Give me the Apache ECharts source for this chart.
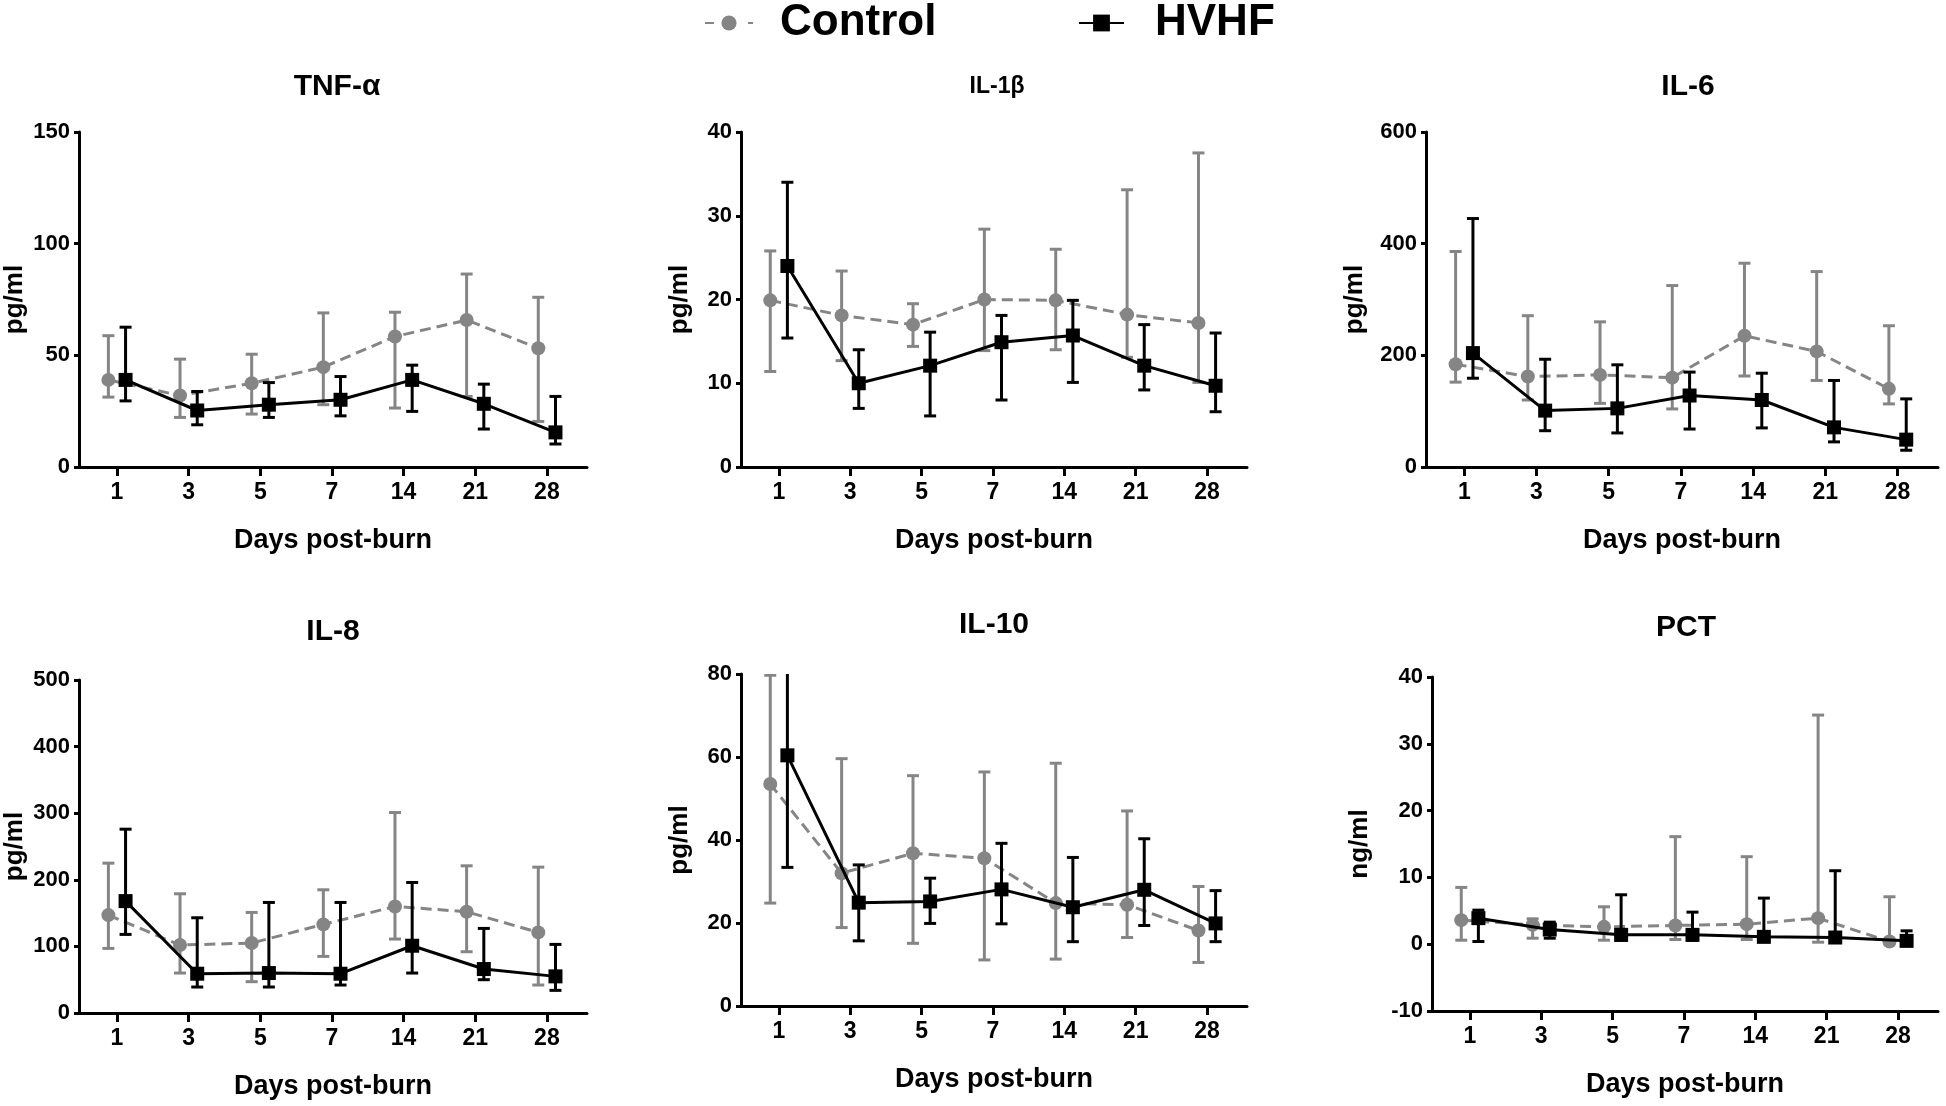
<!DOCTYPE html>
<html>
<head>
<meta charset="utf-8">
<script src="https://cdn.jsdelivr.net/npm/echarts@6/dist/echarts.min.js"></script>
<style>
html,body{margin:0;padding:0;background:#fff;}
#chart{width:1946px;height:1106px;}
</style>
</head>
<body>
<div id="chart"></div>
<script>
// ---- categories ----
const days = ['1', '3', '5', '7', '14', '21', '28'];
const seriesNames = ['Control', 'HVHF'];

// ---- TNF-α (pg/ml) ----
const tnfCtrl    = [39.0, 32.0, 37.5, 44.7, 58.4, 65.8, 53.2];
const tnfCtrlLo  = [31.3, 22.2, 23.7, 27.9, 26.4, 31.6, 20.4];
const tnfCtrlHi  = [58.8, 48.3, 50.5, 69.0, 69.3, 86.4, 76.0];
const tnfHvhf    = [39.0, 25.3, 27.9, 30.1, 39.0, 28.3, 15.5];
const tnfHvhfLo  = [29.6, 18.9, 22.2, 22.9, 24.9, 17.0, 10.3];
const tnfHvhfHi  = [62.6, 33.8, 37.8, 40.5, 45.6, 37.1, 31.6];

// ---- IL-1β (pg/ml) ----
const il1bCtrl   = [19.9, 18.1, 17.0, 20.0, 19.9, 18.2, 17.2];
const il1bCtrlLo = [11.4, 12.7, 14.4, 13.9, 14.0, 13.1, 10.1];
const il1bCtrlHi = [25.8, 23.4, 19.5, 28.4, 26.0, 33.1, 37.5];
const il1bHvhf   = [24.0, 10.0, 12.1, 14.9, 15.7, 12.1, 9.7];
const il1bHvhfLo = [15.4, 7.0, 6.1, 8.0, 10.1, 9.2, 6.6];
const il1bHvhfHi = [34.0, 14.0, 16.1, 18.1, 19.9, 17.0, 16.0];

// ---- IL-6 (pg/ml) ----
const il6Ctrl    = [184, 162, 165, 160, 235, 207, 140];
const il6CtrlLo  = [152, 120, 114, 104, 163, 155, 113];
const il6CtrlHi  = [386, 271, 260, 325, 365, 350, 253];
const il6Hvhf    = [204, 101, 105, 128, 120, 71, 49];
const il6HvhfLo  = [159, 65, 61, 68, 70, 45, 30];
const il6HvhfHi  = [445, 193, 183, 170, 168, 155, 122];

// ---- IL-8 (pg/ml) ----
const il8Ctrl    = [147, 102, 105, 133, 160, 152, 121];
const il8CtrlLo  = [97, 60, 47, 85, 111, 92, 42];
const il8CtrlHi  = [225, 179, 151, 185, 301, 221, 219];
const il8Hvhf    = [168, 59, 60, 59, 101, 66, 55];
const il8HvhfLo  = [118, 39, 39, 42, 60, 50, 34];
const il8HvhfHi  = [276, 143, 166, 166, 196, 127, 103];

// ---- IL-10 (pg/ml) ----
const il10Ctrl   = [53.5, 32.0, 36.8, 35.6, 24.8, 24.4, 18.2];
const il10CtrlLo = [24.8, 18.9, 15.1, 11.1, 11.3, 16.5, 10.5];
const il10CtrlHi = [79.7, 59.6, 55.5, 56.4, 58.5, 47.0, 28.8];
const il10Hvhf   = [60.4, 24.9, 25.2, 28.1, 23.8, 28.0, 19.9];
const il10HvhfLo = [33.4, 15.7, 19.9, 19.8, 15.5, 19.4, 15.5];
const il10HvhfHi = [86.0, 34.0, 30.8, 39.2, 35.8, 40.3, 27.8];

// ---- PCT (ng/ml) ----
const pctCtrl    = [3.6, 2.9, 2.6, 2.8, 3.0, 3.9, 0.4];
const pctCtrlLo  = [0.6, 0.9, 0.6, 0.7, 0.7, 0.3, 0.0];
const pctCtrlHi  = [8.5, 3.8, 5.6, 16.1, 13.1, 34.3, 7.1];
const pctHvhf    = [3.9, 2.2, 1.4, 1.4, 1.1, 1.0, 0.5];
const pctHvhfLo  = [0.4, 0.9, 0.6, 0.6, 0.5, 0.4, 0.1];
const pctHvhfHi  = [5.1, 3.3, 7.4, 4.8, 6.9, 11.0, 2.0];

// ---- y-axis ranges ----
const yTicksTnf  = {min: 0, max: 150, interval: 50};
const yTicksIl1b = {min: 0, max: 40, interval: 10};
const yTicksIl6  = {min: 0, max: 600, interval: 200};
const yTicksIl8  = {min: 0, max: 500, interval: 100};
const yTicksIl10 = {min: 0, max: 80, interval: 20};
const yTicksPct  = {min: -10, max: 40, interval: 10};

const BIG_TITLE = 'bold 30px "Liberation Sans", Arial, sans-serif';
const SMALL_TITLE = 'bold 23px "Liberation Sans", Arial, sans-serif';

const panels = [
  {title: 'TNF-α', unit: 'pg/ml', y: yTicksTnf, c: [tnfCtrl, tnfCtrlLo, tnfCtrlHi], h: [tnfHvhf, tnfHvhfLo, tnfHvhfHi],
   grid: {left: 79, top: 132, width: 508, height: 335}, tx: 337, ty: 87, nameGap: 51, titleFont: BIG_TITLE},
  {title: 'IL-1β', unit: 'pg/ml', y: yTicksIl1b, c: [il1bCtrl, il1bCtrlLo, il1bCtrlHi], h: [il1bHvhf, il1bHvhfLo, il1bHvhfHi],
   grid: {left: 741, top: 132, width: 506, height: 335}, tx: 997, ty: 87, nameGap: 48, titleFont: SMALL_TITLE},
  {title: 'IL-6', unit: 'pg/ml', y: yTicksIl6, c: [il6Ctrl, il6CtrlLo, il6CtrlHi], h: [il6Hvhf, il6HvhfLo, il6HvhfHi],
   grid: {left: 1426, top: 132, width: 512, height: 335}, tx: 1688, ty: 87, nameGap: 58, titleFont: BIG_TITLE},
  {title: 'IL-8', unit: 'pg/ml', y: yTicksIl8, c: [il8Ctrl, il8CtrlLo, il8CtrlHi], h: [il8Hvhf, il8HvhfLo, il8HvhfHi],
   grid: {left: 79, top: 680, width: 508, height: 333}, tx: 333, ty: 632, nameGap: 51, titleFont: BIG_TITLE},
  {title: 'IL-10', unit: 'pg/ml', y: yTicksIl10, c: [il10Ctrl, il10CtrlLo, il10CtrlHi], h: [il10Hvhf, il10HvhfLo, il10HvhfHi],
   grid: {left: 741, top: 674, width: 506, height: 332}, tx: 994, ty: 625, nameGap: 48, titleFont: BIG_TITLE},
  {title: 'PCT', unit: 'ng/ml', y: yTicksPct, c: [pctCtrl, pctCtrlLo, pctCtrlHi], h: [pctHvhf, pctHvhfLo, pctHvhfHi],
   grid: {left: 1432, top: 677, width: 506, height: 334}, tx: 1686, ty: 628, nameGap: 59, titleFont: BIG_TITLE}
];

const GRAY = '#858585';
const BLACK = '#000000';
const OFFSET = 0.12; // horizontal nudge between the two groups (axis units)
const FONT = '"Liberation Sans", Arial, sans-serif';

function errRender(color) {
  return function (params, api) {
    const x = api.value(0), lo = api.value(1), hi = api.value(2);
    const pLo = api.coord([x, lo]);
    const pHi = api.coord([x, hi]);
    const half = 6;
    const style = {stroke: color, lineWidth: 3, fill: null};
    return {
      type: 'group',
      children: [
        {type: 'line', shape: {x1: pLo[0], y1: pLo[1], x2: pHi[0], y2: pHi[1]}, style: style},
        {type: 'line', shape: {x1: pHi[0] - half, y1: pHi[1], x2: pHi[0] + half, y2: pHi[1]}, style: style},
        {type: 'line', shape: {x1: pLo[0] - half, y1: pLo[1], x2: pLo[0] + half, y2: pLo[1]}, style: style}
      ]
    };
  };
}

const grids = [], xAxes = [], yAxes = [], series = [], graphics = [];
panels.forEach(function (p, i) {
  grids.push(Object.assign({containLabel: false}, p.grid));
  xAxes.push({
    type: 'value', gridIndex: i, min: 0.47, max: 7.56,
    name: 'Days post-burn', nameLocation: 'middle', nameGap: 60,
    nameTextStyle: {fontFamily: FONT, fontWeight: 'bold', fontSize: 27, color: '#000'},
    splitLine: {show: false},
    axisLine: {onZero: false, lineStyle: {color: '#000', width: 3}},
    axisTick: {length: 9, lineStyle: {color: '#000', width: 3}, customValues: [1, 2, 3, 4, 5, 6, 7]},
    axisLabel: {customValues: [1, 2, 3, 4, 5, 6, 7], margin: 14, fontFamily: FONT, fontWeight: 'bold', fontSize: 23, color: '#000',
      formatter: function (v) { return days[Math.round(v) - 1]; }}
  });
  yAxes.push({
    type: 'value', gridIndex: i, min: p.y.min, max: p.y.max, interval: p.y.interval,
    name: p.unit, nameLocation: 'middle', nameGap: p.nameGap, nameRotate: 90,
    nameTextStyle: {fontFamily: FONT, fontWeight: 'bold', fontSize: 26, color: '#000'},
    splitLine: {show: false},
    axisLine: {show: true, onZero: false, lineStyle: {color: '#000', width: 3}},
    axisTick: {show: true, length: 5, lineStyle: {color: '#000', width: 3}},
    axisLabel: {margin: 9, fontFamily: FONT, fontWeight: 'bold', fontSize: 22, color: '#000'}
  });
  const cx = p.c[0].map(function (v, k) { return [k + 1 - OFFSET, v]; });
  const hx = p.h[0].map(function (v, k) { return [k + 1 + OFFSET, v]; });
  const cErr = p.c[0].map(function (v, k) { return [k + 1 - OFFSET, p.c[1][k], p.c[2][k]]; });
  const hErr = p.h[0].map(function (v, k) { return [k + 1 + OFFSET, p.h[1][k], p.h[2][k]]; });
  series.push({
    type: 'custom', xAxisIndex: i, yAxisIndex: i, clip: true, renderItem: errRender(GRAY),
    encode: {x: 0, y: [1, 2]}, data: cErr, z: 2, silent: true
  });
  series.push({
    name: 'Control', type: 'line', xAxisIndex: i, yAxisIndex: i, data: cx, z: 3,
    symbol: 'circle', symbolSize: 14, itemStyle: {color: GRAY},
    lineStyle: {color: GRAY, width: 3, type: [11, 6]}
  });
  series.push({
    type: 'custom', xAxisIndex: i, yAxisIndex: i, clip: true, renderItem: errRender(BLACK),
    encode: {x: 0, y: [1, 2]}, data: hErr, z: 4, silent: true
  });
  series.push({
    name: 'HVHF', type: 'line', xAxisIndex: i, yAxisIndex: i, data: hx, z: 5,
    symbol: 'rect', symbolSize: 14, itemStyle: {color: BLACK},
    lineStyle: {color: BLACK, width: 3}
  });
  graphics.push({
    type: 'text', x: p.tx, y: p.ty,
    style: {text: p.title, font: p.titleFont, fill: '#000', align: 'center', verticalAlign: 'middle'}
  });
});

const chart = echarts.init(document.getElementById('chart'), null, {renderer: 'canvas'});
chart.setOption({
  backgroundColor: '#fff',
  animation: false,
  grid: grids,
  xAxis: xAxes,
  yAxis: yAxes,
  series: series,
  graphic: graphics,
  legend: [
    {data: [seriesNames[0]], left: 699, top: -4, itemWidth: 48, itemHeight: 19, selectedMode: false,
     lineStyle: {type: [9, 34]},
     textStyle: {fontFamily: FONT, fontWeight: 'bold', fontSize: 44, color: '#000', padding: [0, 0, 0, 22]}},
    {data: [seriesNames[1]], left: 1073, top: -4, itemWidth: 45, itemHeight: 21, selectedMode: false,
     textStyle: {fontFamily: FONT, fontWeight: 'bold', fontSize: 44, color: '#000', padding: [0, 0, 0, 26]}}
  ]
});
</script>
</body>
</html>
